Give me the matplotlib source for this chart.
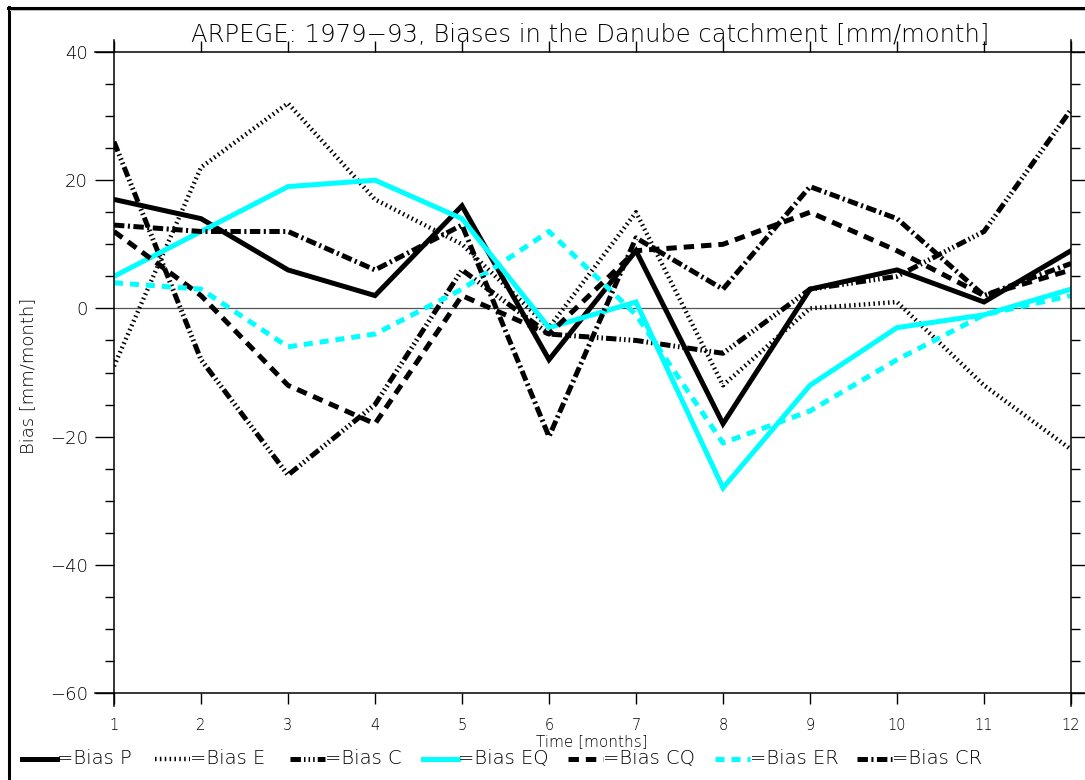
import matplotlib
matplotlib.use('Agg')
import matplotlib.pyplot as plt
from matplotlib.lines import Line2D
from matplotlib.ticker import MultipleLocator

plt.rcParams['lines.scale_dashes'] = False
plt.rcParams['font.family'] = ['DejaVu Sans']

months = list(range(1, 13))
month_labels = [str(m) for m in months]
bias_p  = [17, 14, 6, 2, 16, -8, 9, -18, 3, 6, 1, 9]
bias_e  = [-9, 22, 32, 17, 10, -3, 15, -12, 0, 1, -12, -22]
bias_c  = [26, -8, -26, -15, 6, -4, -5, -7, 3, 5, 12, 31]
bias_eq = [5, 12, 19, 20, 14, -3, 1, -28, -12, -3, -1, 3]
bias_cq = [12, 2, -12, -18, 2, -4, 9, 10, 15, 9, 2, 6]
bias_er = [4, 3, -6, -4, 3, 12, -1, -21, -16, -8, -1, 2]
bias_cr = [13, 12, 12, 6, 13, -20, 11, 3, 19, 14, 2, 7]
series_names = ['Bias P', 'Bias E', 'Bias C', 'Bias EQ', 'Bias CQ', 'Bias ER', 'Bias CR']
title = 'ARPEGE: 1979\u221293, Biases in the Danube catchment [mm/month]'

W, H = 1085, 780
fig = plt.figure(figsize=(W / 100, H / 100), dpi=100)
fig.patch.set_facecolor('white')

def fx(px):
    return px / W

def fy(py):
    return 1 - py / H

L, R, T, B = 114, 1071, 52, 693
ax = fig.add_axes([fx(L), fy(B), fx(R) - fx(L), fy(T) - fy(B)])
ax.set_xlim(1, 12)
ax.set_ylim(-60, 40)
for s in ax.spines.values():
    s.set_visible(False)
ax.patch.set_alpha(0)

CY = '#00FFFF'
styles = [
    dict(color='black', lw=3.6, ls='-'),
    dict(color='black', lw=3.2, ls=(0, (1.1, 2.4))),
    dict(color='black', lw=3.6, ls=(0, (7.5, 2.2, 1.1, 2.2, 1.1, 2.2, 1.1, 2.2))),
    dict(color=CY, lw=3.6, ls='-'),
    dict(color='black', lw=3.6, ls=(0, (7.5, 5.0))),
    dict(color=CY, lw=3.6, ls=(0, (6.5, 5.0))),
    dict(color='black', lw=3.6, ls=(0, (7.5, 2.5, 1.5, 2.5))),
]
data = [bias_p, bias_e, bias_c, bias_eq, bias_cq, bias_er, bias_cr]

ax.axhline(0, color='#555555', lw=0.9, zorder=1)
for d, st in zip(data, styles):
    ax.plot(months, d, color=st['color'], lw=st['lw'], linestyle=st['ls'],
            solid_joinstyle='miter', dash_capstyle='butt', zorder=3)

# ticks
ax.set_xticks(months)
ax.set_xticklabels(month_labels)
ax.yaxis.set_major_locator(MultipleLocator(20))
ax.yaxis.set_minor_locator(MultipleLocator(5))
ax.tick_params(axis='x', which='major', direction='out', length=8, width=1,
               top=True, bottom=True, labelsize=10.5, pad=10)
ax.tick_params(axis='y', which='major', direction='out', length=13.7, width=1,
               left=True, right=True, labelleft=True, labelright=False,
               labelsize=13, pad=5)
ax.tick_params(axis='y', which='minor', direction='out', length=6.5, width=1,
               left=True, right=True)
for lab in ax.get_xticklabels() + ax.get_yticklabels():
    lab.set_fontweight('light')

# axis frame lines (crossing style)
def fline(xs, ys, **kw):
    fig.add_artist(Line2D([fx(x) for x in xs], [fy(y) for y in ys],
                          transform=fig.transFigure, **kw))

fline([95, 1085], [T, T], color='black', lw=1.1)
fline([95, 1085], [B, B], color='black', lw=1.1)
fline([L, L], [40, 706], color='black', lw=1.1)
fline([R, R], [40, 706], color='black', lw=1.1)

# page border
fline([8, 1085], [7.5, 7.5], color='black', lw=2.2)
fline([9, 9], [7, 780], color='black', lw=2.2)
fline([10, 1085], [10, 10], color='#bbbbbb', lw=0.7)

# texts
fig.text(fx(590), fy(35), title, ha='center', va='center', fontsize=17.5,
         fontweight='light')
fig.text(fx(28), fy(376), 'Bias [mm/month]', rotation=90, ha='center',
         va='center', fontsize=13, fontweight='light')
fig.text(fx(592), fy(742), 'Time [months]', ha='center', va='center',
         fontsize=11, fontweight='light')

# legend
leg_x = [22, 155, 290, 423, 568, 715, 857]
leg_y = 759
for x0, name, st in zip(leg_x, series_names, styles):
    fline([x0, x0 + 35], [leg_y, leg_y], color=st['color'], lw=st['lw'],
          linestyle=st['ls'], dash_capstyle='butt')
    fig.text(fx(x0 + 35), fy(leg_y), '=' + name, ha='left', va='center',
             fontsize=14, fontweight='light')

fig.savefig('out.png', dpi=100)
